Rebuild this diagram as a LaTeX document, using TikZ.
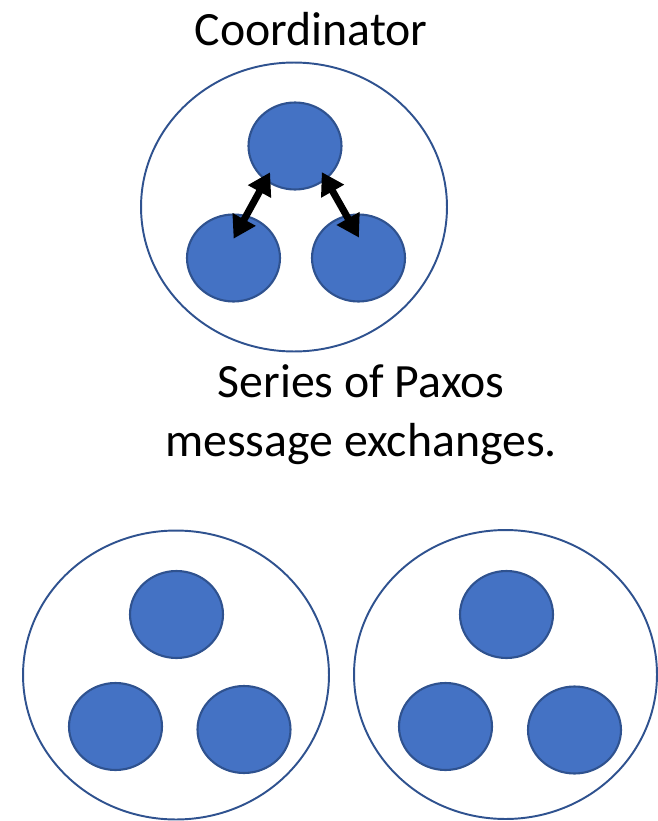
\documentclass[tikz,border=0pt]{standalone}
\usepackage{fontspec}
\setmainfont{Carlito}
\usepackage{tikz}
\usetikzlibrary{shapes.geometric, arrows.meta, positioning}

\definecolor{siteblue}{HTML}{4472C4}
\definecolor{rimblue}{HTML}{2F528F}

\begin{document}
\begin{tikzpicture}[
    x=0.02cm, y=-0.02cm,
    group/.style={
        ellipse,
        draw=rimblue,
        line width=1.1pt,
        minimum width=6.12cm,
        minimum height=5.78cm,
        inner sep=0pt
    },
    site/.style={
        ellipse,
        draw=rimblue,
        fill=siteblue,
        line width=1.2pt,
        minimum width=1.86cm,
        minimum height=1.74cm,
        inner sep=0pt
    },
    msg/.style={
        {Triangle[length=0.44cm, width=0.5cm]}-{Triangle[length=0.44cm, width=0.5cm]},
        line width=4pt
    },
    txt/.style={font=\fontsize{27.2}{33.5}\selectfont, inner sep=0pt, align=center}
]
\useasboundingbox (0,0) rectangle (658,821);

% coordinator group
\node[group] (coord) at (294,207){};
\node[site] (ctop) at (295,146){};
\node[site] (cleft) at (233.5,258){};
\node[site] (cright) at (358.5,258){};

\draw[msg, shorten <=0.6cm, shorten >=0.44cm] ([xshift=-0.21cm]ctop.center) -- ([xshift=-0.21cm]cleft.center);
\draw[msg, shorten <=0.6cm, shorten >=0.47cm] ([xshift=0.24cm]ctop.center) -- ([xshift=0.24cm]cright.center);

% lower groups
\node[group] (ga) at (176,675){};
\node[site] (atop) at (176.5,614.5){};
\node[site] (aleft) at (115.5,726.5){};
\node[site] (aright) at (244,729.5){};

\node[group, minimum width=6.06cm] (gb) at (505.5,674.5){};
\node[site] (btop) at (506.5,614.5){};
\node[site] (bleft) at (445.5,726.5){};
\node[site] (bright) at (574.5,730){};

\node[txt, anchor=north] (title) at (311,12) {Coordinator};
\node[txt, anchor=north] (note) at (361,364) {Series of Paxos\\message exchanges.};

\end{tikzpicture}
\end{document}
